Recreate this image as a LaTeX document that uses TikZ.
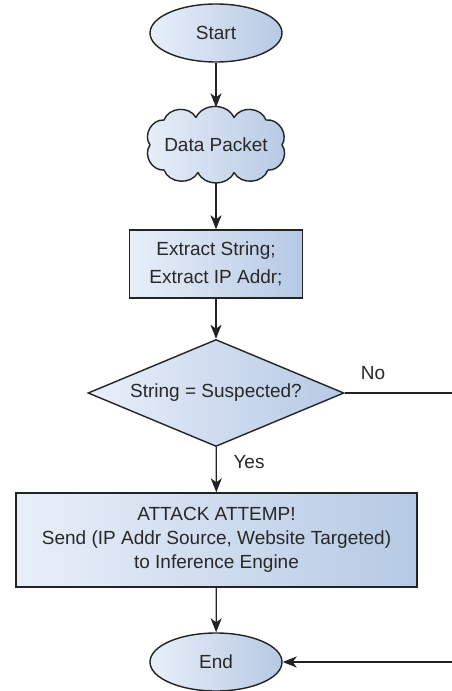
\documentclass[tikz,border=0pt]{standalone}
\usepackage{fontspec}
\setmainfont{Liberation Sans}
\usetikzlibrary{shapes.geometric,arrows.meta,backgrounds}
\definecolor{fillL}{RGB}{232,239,249}
\definecolor{fillR}{RGB}{182,201,228}
\definecolor{edge}{RGB}{35,35,35}
\definecolor{ink}{RGB}{40,40,40}
\begin{document}
\begin{tikzpicture}[x=1pt,y=-1pt,
  every node/.style={font=\fontsize{19}{22.5}\selectfont, text=ink},
  shaded/.style={draw=edge, line width=1.4pt, left color=fillL, right color=fillR},
  box/.style={shaded, inner sep=0pt, align=center},
  term/.style={box, ellipse, minimum width=132pt, minimum height=58pt},
  procbox/.style={box, rectangle},
  decide/.style={box, diamond, aspect=2.4, minimum width=256pt, minimum height=107pt},
  flow/.style={draw=edge, line width=1.3pt, -{Stealth[length=14pt,width=11pt,inset=4pt]}},
]
\clip (0,0) rectangle (452,691);

% process nodes
\node[term]   (start)   at (216,33)  {Start};
\node[inner sep=0pt, minimum width=140pt, minimum height=75pt] (packet) at (216,145) {Data Packet};
\node[procbox, minimum width=173pt, minimum height=68pt] (extract) at (216,264)
      {Extract String;\\[5pt]Extract IP Addr;};
\node[decide] (check)   at (216,393) {String = Suspected?};
\node[procbox, minimum width=401pt, minimum height=94pt] (attack) at (216.5,540)
      {ATTACK ATTEMP!\\[1.5pt]Send (IP Addr Source, Website Targeted)\\[1.5pt]to Inference Engine};
\node[term]   (finish)  at (216,662) {End};

% cloud outline behind the "Data Packet" text: ten puffs
\begin{scope}[on background layer, shift={(packet.center)}, x=1pt, y=1pt,
              every to/.style={bend right=65, looseness=1.1}]
  \path[shaded, line join=round]
    (66,0) to (50,25) to (18,27.5) to (-20,27.5) to (-52,25) to (-66,0)
    to (-52,-25) to (-18,-27.5) to (18,-27.5) to (52,-25) to (66,0) -- cycle;
\end{scope}

% branch labels
\node (nolab)  at (373,373) {No};
\node (yeslab) at (249,462) {Yes};

% connectors
\draw[flow] (start) -- (packet);
\draw[flow] (packet) -- (extract);
\draw[flow] (extract) -- (check);
\draw[flow] (check) -- (attack);
\draw[flow] (attack) -- (finish);
\coordinate (rightrail) at (464,393);
\draw[flow] (check.east) -- (rightrail) |- (finish.east);
\end{tikzpicture}
\end{document}
